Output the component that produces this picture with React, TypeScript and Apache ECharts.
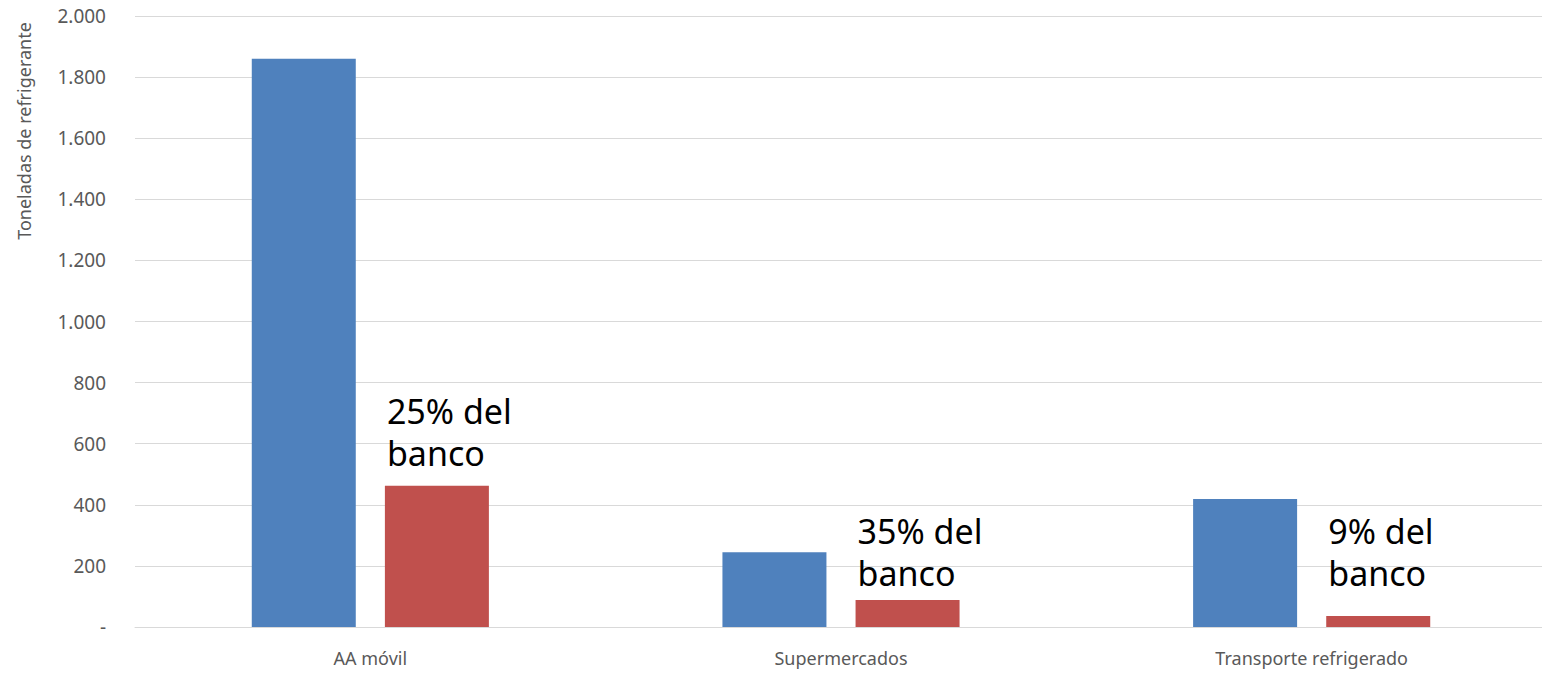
import React, { useEffect, useRef } from "react";
import * as echarts from "echarts";

const categories = ["AA móvil", "Supermercados", "Transporte refrigerado"];
const bankValues = [1860, 245, 419];
const emissionValues = [462, 88, 36];
const shareLabels = ["25% del\nbanco", "35% del\nbanco", "9% del\nbanco"];
const yTicks = [0, 200, 400, 600, 800, 1000, 1200, 1400, 1600, 1800, 2000];
const yAxisTitle = "Toneladas de refrigerante";

const labelGaps = [12, 6, 22];

function fmt(v: number): string {
  if (v === 0) return "-";
  const s = String(Math.round(v));
  return s.replace(/\B(?=(\d{3})+(?!\d))/g, ".");
}

export default function App() {
  const ref = useRef<HTMLDivElement>(null);
  useEffect(() => {
    if (!ref.current) return;
    const chart = echarts.init(ref.current, null, { renderer: "svg" });
    chart.setOption({
      animation: false,
      backgroundColor: "#ffffff",
      textStyle: { fontFamily: "Noto Sans" },
      grid: { left: 135, width: 1412, top: 16, bottom: 48, containLabel: false },
      xAxis: {
        type: "category",
        data: categories,
        axisTick: { show: false },
        axisLine: { lineStyle: { color: "#D9D9D9", width: 1 } },
        axisLabel: { color: "#595959", fontSize: 18, margin: 22, fontFamily: "Noto Sans" },
      },
      yAxis: {
        type: "value",
        min: yTicks[0],
        max: yTicks[yTicks.length - 1],
        interval: 200,
        axisLine: { show: false },
        axisTick: { show: false },
        splitLine: { lineStyle: { color: "#D9D9D9", width: 1 } },
        axisLabel: {
          color: "#595959",
          fontSize: 19,
          margin: 29,
          fontFamily: "Noto Sans",
          formatter: (v: number) => fmt(v),
        },
      },
      graphic: [
        {
          type: "text",
          x: 24,
          y: 131,
          rotation: Math.PI / 2,
          style: {
            text: yAxisTitle,
            fill: "#595959",
            fontSize: 18,
            fontFamily: "Noto Sans",
            align: "center",
            verticalAlign: "middle",
          },
        },
      ],
      series: [
        {
          type: "bar",
          data: bankValues,
          barWidth: 104,
          barGap: "28%",
          itemStyle: { color: "#4F81BD" },
        },
        {
          type: "bar",
          data: emissionValues.map((v, i) => ({
            value: v,
            label: {
              show: true,
              position: [2, -labelGaps[i]],
              align: "left",
              verticalAlign: "bottom",
              formatter: shareLabels[i],
              fontSize: 34,
              lineHeight: 42,
              color: "#000000",
              fontFamily: "Noto Sans",
            },
          })),
          barWidth: 104,
          itemStyle: { color: "#C0504D" },
        },
      ],
    });
    return () => chart.dispose();
  }, []);
  return (
    <div style={{ position: "absolute", left: 0, top: 0, width: 1542, height: 675, overflow: "hidden" }}>
      <div ref={ref} style={{ width: 1560, height: 675 }} />
    </div>
  );
}
